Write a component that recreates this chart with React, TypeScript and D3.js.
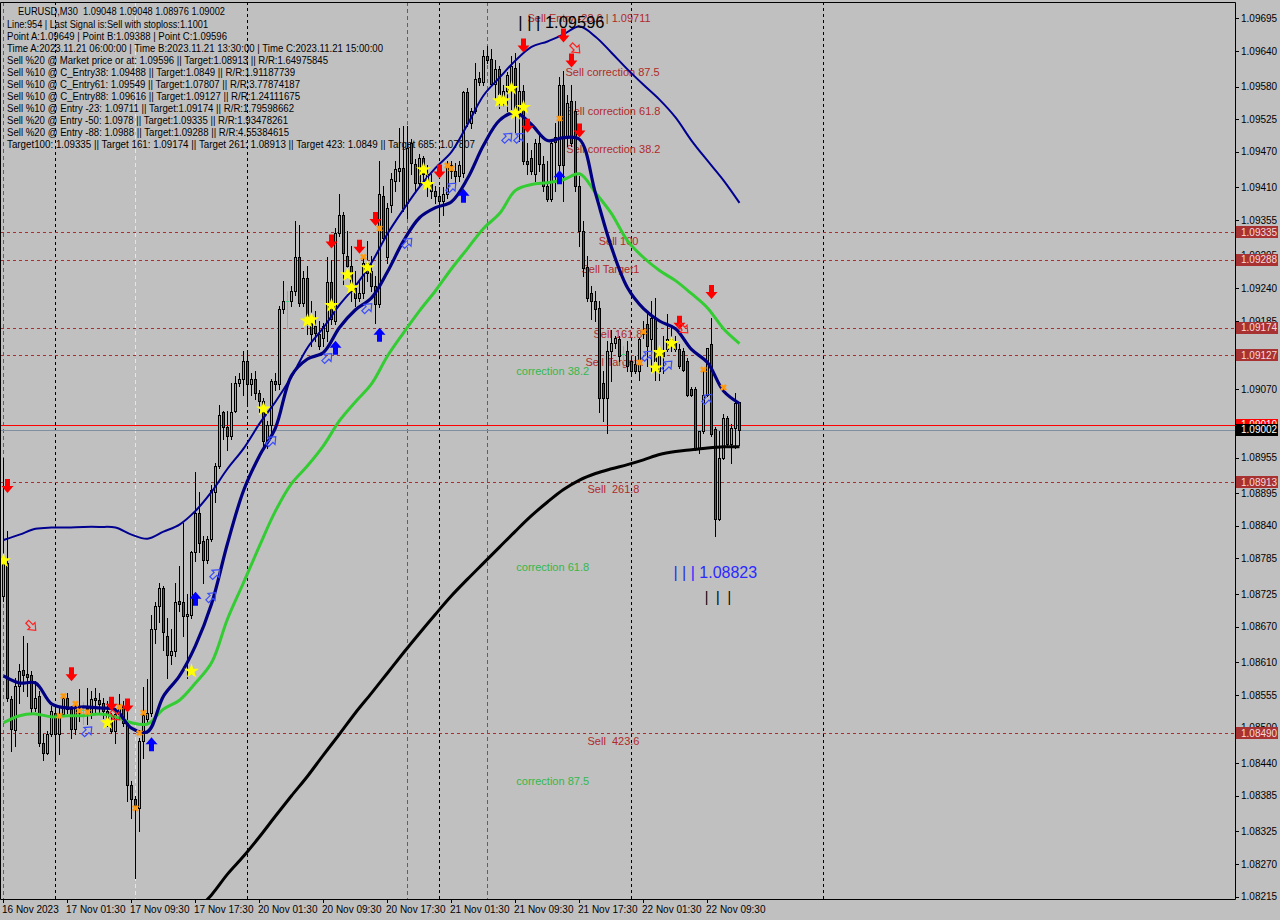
import * as d3 from "d3";
import { useEffect, useRef } from "react";

// EURUSD M30, bar 0 = 16 Nov 2023 17:30
const opens = [
  1.08722, 1.08778, 1.08548, 1.08496, 1.0857, 1.08597, 1.0859, 1.08588, 1.08533, 1.08553,
  1.08474, 1.08457, 1.08489, 1.08525, 1.08489, 1.08523, 1.08549, 1.08532, 1.08498, 1.08525,
  1.0853, 1.08533, 1.08523, 1.08549, 1.08546, 1.08542, 1.08528, 1.08511, 1.08494, 1.08523,
  1.08537, 1.08511, 1.08403, 1.0838, 1.08364, 1.08478, 1.08515, 1.08525, 1.08666, 1.08705,
  1.08735, 1.08654, 1.08622, 1.08629, 1.08713, 1.08711, 1.08688, 1.08689, 1.08795, 1.08862,
  1.08815, 1.08783, 1.08818, 1.08897, 1.0894, 1.09031, 1.09007, 1.08992, 1.09034, 1.09081,
  1.09088, 1.09118, 1.09079, 1.09088, 1.09064, 1.09051, 1.08983, 1.09009, 1.09084, 1.09078,
  1.09206, 1.09219, 1.09219, 1.09236, 1.09292, 1.09216, 1.09258, 1.09189, 1.09177, 1.09163,
  1.09157, 1.09168, 1.0925, 1.09185, 1.09334, 1.09363, 1.09295, 1.09278, 1.09241, 1.09224,
  1.09233, 1.09282, 1.0927, 1.09244, 1.09214, 1.09396, 1.09292, 1.0938, 1.09421, 1.09438,
  1.09443, 1.09383, 1.09485, 1.0945, 1.09418, 1.0946, 1.09433, 1.09416, 1.09404, 1.09396,
  1.09388, 1.09399, 1.09447, 1.09438, 1.0943, 1.09435, 1.0957, 1.09518, 1.09539, 1.09595,
  1.09587, 1.09632, 1.09627, 1.09585, 1.0961, 1.09556, 1.09573, 1.09573, 1.09612, 1.09539,
  1.09573, 1.09455, 1.0946, 1.09433, 1.09485, 1.0945, 1.09413, 1.0939, 1.09495, 1.09447,
  1.09582, 1.09495, 1.09556, 1.09539, 1.09413, 1.09337, 1.09276, 1.09233, 1.09219, 1.09207,
  1.09081, 1.09056, 1.09135, 1.09148, 1.09155, 1.0913, 1.09135, 1.09118, 1.09113, 1.09101,
  1.09168, 1.0918, 1.09155, 1.0919, 1.09101, 1.09132, 1.09138, 1.09155, 1.09148, 1.09138,
  1.09135, 1.09118, 1.09071, 1.09071, 1.0897, 1.09, 1.09061, 1.09147, 1.09003, 1.08852,
  1.08955, 1.09022, 1.08978, 1.09005, 1.09048,
];
const highs = [
  1.08954, 1.08831, 1.08553, 1.08583, 1.08607, 1.08654, 1.08642, 1.08595, 1.08578, 1.08561,
  1.08489, 1.08494, 1.08537, 1.08537, 1.08533, 1.08556, 1.08558, 1.08537, 1.08542, 1.08565,
  1.08543, 1.08566, 1.08561, 1.08566, 1.08558, 1.08549, 1.08545, 1.08525, 1.08532, 1.08556,
  1.08545, 1.08537, 1.0841, 1.08385, 1.08483, 1.08568, 1.08581, 1.08689, 1.08711, 1.08744,
  1.08739, 1.08684, 1.08666, 1.08744, 1.08772, 1.08845, 1.08725, 1.08798, 1.0893, 1.08897,
  1.08823, 1.08823, 1.08909, 1.08945, 1.09043, 1.09034, 1.09034, 1.09081, 1.09093, 1.09098,
  1.09135, 1.09132, 1.09098, 1.09101, 1.09068, 1.09056, 1.09017, 1.09088, 1.09098, 1.09211,
  1.09253, 1.09236, 1.09244, 1.09354, 1.09346, 1.0927, 1.09278, 1.09219, 1.09202, 1.09185,
  1.09182, 1.09292, 1.09287, 1.09341, 1.09399, 1.09368, 1.09337, 1.09312, 1.0927, 1.09253,
  1.09295, 1.0932, 1.09295, 1.09261, 1.09455, 1.09413, 1.09383, 1.09435, 1.09455, 1.0951,
  1.09514, 1.09514, 1.09492, 1.09458, 1.09467, 1.09463, 1.09447, 1.09433, 1.09413, 1.0941,
  1.0941, 1.09455, 1.09455, 1.09451, 1.09455, 1.09573, 1.09578, 1.09544, 1.09619, 1.09604,
  1.09641, 1.09649, 1.09644, 1.09624, 1.09615, 1.09582, 1.09604, 1.09632, 1.09636, 1.09619,
  1.09582, 1.09485, 1.09473, 1.09492, 1.095, 1.09463, 1.09455, 1.09492, 1.09519, 1.09596,
  1.09607, 1.09565, 1.09582, 1.09556, 1.0943, 1.09354, 1.09295, 1.09244, 1.09236, 1.09219,
  1.09101, 1.09152, 1.09169, 1.0916, 1.0916, 1.09143, 1.09152, 1.09126, 1.09126, 1.09157,
  1.09185, 1.09202, 1.09219, 1.09224, 1.0914, 1.0916, 1.09197, 1.09174, 1.0916, 1.09147,
  1.0914, 1.09123, 1.09074, 1.09073, 1.09, 1.09101, 1.0914, 1.0919, 1.09007, 1.09,
  1.09029, 1.09025, 1.09012, 1.09064, 1.09048,
];
const lows = [
  1.08713, 1.08545, 1.08461, 1.08469, 1.08542, 1.08561, 1.08553, 1.08525, 1.08528, 1.08469,
  1.08446, 1.08456, 1.08486, 1.08444, 1.08456, 1.0852, 1.08525, 1.08483, 1.08489, 1.08511,
  1.08506, 1.08506, 1.08516, 1.08523, 1.08523, 1.08516, 1.08503, 1.08491, 1.08474, 1.08516,
  1.08503, 1.08377, 1.08348, 1.08247, 1.08326, 1.08449, 1.08508, 1.0852, 1.08642, 1.08678,
  1.0863, 1.08583, 1.08607, 1.0862, 1.08696, 1.08654, 1.08583, 1.08684, 1.0878, 1.08796,
  1.08744, 1.08778, 1.08815, 1.0888, 1.08937, 1.08987, 1.08968, 1.08987, 1.09031, 1.09076,
  1.09061, 1.09046, 1.09061, 1.09054, 1.09031, 1.08975, 1.08971, 1.08989, 1.09068, 1.09071,
  1.09199, 1.09174, 1.09211, 1.09228, 1.09211, 1.09211, 1.09163, 1.09143, 1.09152, 1.09138,
  1.09143, 1.09152, 1.0918, 1.0918, 1.09329, 1.09248, 1.09261, 1.09219, 1.09211, 1.09219,
  1.09224, 1.09253, 1.09236, 1.09182, 1.09209, 1.0932, 1.09282, 1.09368, 1.09404, 1.09421,
  1.09371, 1.09358, 1.09433, 1.09404, 1.0941, 1.09418, 1.09396, 1.09393, 1.09383, 1.09351,
  1.09363, 1.09393, 1.09426, 1.09413, 1.09421, 1.09427, 1.09514, 1.0951, 1.09536, 1.09583,
  1.09583, 1.0962, 1.09582, 1.09561, 1.09544, 1.09548, 1.09539, 1.09543, 1.09503, 1.09489,
  1.0945, 1.09433, 1.09433, 1.09421, 1.09438, 1.09404, 1.09388, 1.09388, 1.09404, 1.09438,
  1.09388, 1.0948, 1.0948, 1.09404, 1.09312, 1.09261, 1.09219, 1.09189, 1.09185, 1.09031,
  1.09017, 1.08997, 1.09084, 1.0914, 1.09118, 1.09118, 1.09101, 1.09093, 1.09098, 1.09086,
  1.09157, 1.0911, 1.09101, 1.09086, 1.09086, 1.09098, 1.09135, 1.09135, 1.09135, 1.09106,
  1.09101, 1.09059, 1.09059, 1.08967, 1.08963, 1.08997, 1.09059, 1.08992, 1.08823, 1.08849,
  1.08953, 1.08975, 1.08946, 1.08971, 1.08976,
];
const closes = [
  1.08778, 1.08549, 1.08498, 1.0857, 1.08595, 1.08588, 1.08585, 1.08533, 1.08549, 1.08474,
  1.08457, 1.08489, 1.08528, 1.08489, 1.08523, 1.08549, 1.08532, 1.08498, 1.08533, 1.08535,
  1.0853, 1.08523, 1.08548, 1.08546, 1.0854, 1.08528, 1.08511, 1.08494, 1.08523, 1.0854,
  1.08508, 1.08403, 1.0838, 1.08364, 1.08478, 1.08521, 1.08525, 1.08666, 1.08705, 1.08735,
  1.08661, 1.08622, 1.08629, 1.08711, 1.08708, 1.08688, 1.08691, 1.08795, 1.08862, 1.08811,
  1.08783, 1.08818, 1.08901, 1.0894, 1.09027, 1.09007, 1.08992, 1.09031, 1.09081, 1.09088,
  1.09118, 1.09079, 1.09088, 1.09064, 1.09051, 1.08983, 1.09009, 1.09084, 1.09078, 1.09206,
  1.09219, 1.09219, 1.09236, 1.09292, 1.09216, 1.09258, 1.09189, 1.09163, 1.09165, 1.09143,
  1.09177, 1.0925, 1.09189, 1.09334, 1.09363, 1.09299, 1.09278, 1.09236, 1.09224, 1.09233,
  1.09282, 1.09266, 1.09244, 1.09214, 1.09399, 1.09324, 1.09376, 1.09425, 1.09441, 1.09443,
  1.09375, 1.09476, 1.09451, 1.09418, 1.0946, 1.09433, 1.0941, 1.09404, 1.09396, 1.09388,
  1.09399, 1.09447, 1.09438, 1.0943, 1.09447, 1.0957, 1.09518, 1.09539, 1.09593, 1.09587,
  1.09632, 1.09624, 1.09585, 1.0961, 1.09568, 1.09573, 1.09599, 1.09615, 1.09539, 1.09573,
  1.09455, 1.0945, 1.09438, 1.09485, 1.0945, 1.09413, 1.0939, 1.09485, 1.09487, 1.09582,
  1.09447, 1.09553, 1.09485, 1.09413, 1.09337, 1.09275, 1.09224, 1.09219, 1.09206, 1.09056,
  1.09056, 1.09135, 1.09148, 1.09157, 1.09126, 1.0913, 1.0911, 1.09101, 1.09101, 1.09155,
  1.09163, 1.09143, 1.0919, 1.09118, 1.09132, 1.09126, 1.09155, 1.09143, 1.09138, 1.0911,
  1.09103, 1.09061, 1.09061, 1.0897, 1.09, 1.09061, 1.0914, 1.08995, 1.08852, 1.08955,
  1.09022, 1.08978, 1.09005, 1.09046, 1.09002,
];

// moving averages read every 4 bars
const maStep = 4;
const fastMa = [
  1.08587, 1.08575, 1.08575, 1.0854, 1.08533, 1.08535, 1.08533, 1.0853, 1.08499, 1.08493,
  1.08553, 1.08587, 1.08638, 1.08708, 1.0881, 1.08899, 1.08958, 1.09005, 1.09093, 1.09121,
  1.09132, 1.09174, 1.09204, 1.09224, 1.09268, 1.0932, 1.09359, 1.09376, 1.09386, 1.09425,
  1.09481, 1.09523, 1.09536, 1.09516, 1.09489, 1.09494, 1.09491, 1.094, 1.09309, 1.09241,
  1.09206, 1.09185, 1.09172, 1.09137, 1.09115, 1.09067, 1.09046,
];
const greenMa = [
  1.08508, 1.0852, 1.08523, 1.08518, 1.0852, 1.0852, 1.08523, 1.08518, 1.08508, 1.08506,
  1.08531, 1.08546, 1.08575, 1.08609, 1.08683, 1.08744, 1.08806, 1.08865, 1.08911, 1.08941,
  1.08975, 1.09017, 1.09049, 1.09079, 1.09126, 1.09165, 1.09202, 1.09236, 1.09273, 1.09307,
  1.09341, 1.09366, 1.09405, 1.09415, 1.09418, 1.09423, 1.09433, 1.09401, 1.09366, 1.0932,
  1.09292, 1.0927, 1.09253, 1.09231, 1.09207, 1.09172, 1.09147,
];
const slowMa = [
  1.08816, 1.08825, 1.08835, 1.08837, 1.08837, 1.08838, 1.08838, 1.08837, 1.08825, 1.08818,
  1.0883, 1.08842, 1.08865, 1.08897, 1.08936, 1.0897, 1.09012, 1.09049, 1.09091, 1.0914,
  1.09174, 1.09212, 1.09244, 1.09283, 1.09332, 1.09373, 1.09411, 1.09443, 1.0947, 1.09516,
  1.09565, 1.09595, 1.09624, 1.09647, 1.09656, 1.09668, 1.09681, 1.09664, 1.09637, 1.09609,
  1.09583, 1.09558, 1.09528, 1.09489, 1.09455, 1.09422, 1.09384,
];
const longMaStart = 48;
const longMa = [
  1.08191, 1.08218, 1.08253, 1.08283, 1.08316, 1.08351, 1.08385, 1.08418, 1.08454, 1.08489,
  1.08525, 1.08558, 1.08592, 1.08626, 1.08659, 1.08691, 1.08722, 1.0875, 1.08777, 1.08804,
  1.08831, 1.08857, 1.0888, 1.08901, 1.08917, 1.08928, 1.08936, 1.08943, 1.08951, 1.0896,
  1.08965, 1.08968, 1.08971, 1.08973, 1.08973,
];

// signals: [bar, price]
const sellArrows = [
  [1, 1.08907], [17, 1.0859], [27, 1.0854], [31, 1.08537], [82, 1.09319], [89, 1.0931],
  [93, 1.09357], [109, 1.09437], [130, 1.09649], [131, 1.09514], [140, 1.09666],
  [142, 1.09624], [144, 1.09506], [169, 1.09182], [177, 1.09234],
];
const buyArrows = [
  [37, 1.08472], [48, 1.08717], [83, 1.0914], [94, 1.09162], [115, 1.09396], [139, 1.09427],
];
const buyHollow = [
  [21, 1.08494], [52, 1.0872], [53, 1.08759], [67, 1.08983], [81, 1.09123], [91, 1.09207],
  [101, 1.09317], [112, 1.0941], [126, 1.09494], [129, 1.09494], [161, 1.09127],
  [166, 1.0911], [176, 1.09054],
];
const sellHollow = [[7, 1.08671], [28, 1.0852], [143, 1.09644], [170, 1.09172]];
const stars = [
  [0, 1.08781], [26, 1.08508], [47, 1.08595], [65, 1.09037], [76, 1.09185], [77, 1.09187],
  [82, 1.09211], [86, 1.09263], [87, 1.09241], [91, 1.09275], [105, 1.0944], [106, 1.09415],
  [124, 1.09556], [125, 1.09556], [127, 1.09577], [128, 1.09535], [130, 1.09545],
  [163, 1.09106], [164, 1.09132], [167, 1.09147],
];
const crosses = [
  [14, 1.0852], [15, 1.08553], [18, 1.0854], [19, 1.08528], [21, 1.08526], [29, 1.08535],
  [33, 1.08364], [34, 1.08491], [35, 1.08525], [90, 1.09293], [94, 1.09341], [111, 1.09447],
  [112, 1.09442], [139, 1.09526], [159, 1.09115], [160, 1.09167], [175, 1.09103], [180, 1.09073],
];

const levelPrices = [1.09335, 1.09288, 1.09174, 1.09127, 1.08913, 1.0849];
const askPrice = 1.0901;
const bidPrice = 1.09002;

const yTicks = [
  1.09695, 1.0964, 1.0958, 1.09525, 1.0947, 1.0941, 1.09355, 1.09295, 1.0924, 1.09185,
  1.09125, 1.0907, 1.0901, 1.08955, 1.08895, 1.0884, 1.08785, 1.08725, 1.0867, 1.0861,
  1.08555, 1.085, 1.0844, 1.08385, 1.08325, 1.0827, 1.08215,
];
const timeBars = [0, 16, 32, 48, 64, 80, 96, 112, 128, 144, 160, 176];
const timeLabels = [
  "16 Nov 2023", "17 Nov 01:30", "17 Nov 09:30", "17 Nov 17:30", "20 Nov 01:30",
  "20 Nov 09:30", "20 Nov 17:30", "21 Nov 01:30", "21 Nov 09:30", "21 Nov 17:30",
  "22 Nov 01:30", "22 Nov 09:30",
];
const dayBars = [13, 61, 109, 157, 205];
const markBars = [0, 101, 121];
const cyanBars = [33];

const sellTexts = [
  "Sell Entry -23.6 | 1.09711", "Sell correction 87.5", "Sell correction 61.8",
  "Sell correction 38.2", "Sell 100", "Sell Target1", "Sell 161.8", "Sell Target2",
  "Sell  261.8", "Sell  423.6",
];
const sellTextBars = [131, 140.5, 140.7, 140.7, 148.8, 144.5, 147.5, 145.5, 146, 146];
const sellTextPrices = [
  1.09696, 1.09604, 1.09538, 1.09475, 1.0932, 1.09273, 1.09162, 1.09115, 1.08901, 1.08477,
];
const corrTexts = ["correction 38.2", "correction 61.8", "correction 87.5"];
const corrPrices = [1.09101, 1.08771, 1.0841];
const corrBar = 128.2;

const headerLines = [
  "EURUSD,M30  1.09048 1.09048 1.08976 1.09002",
  "Line:954 | Last Signal is:Sell with stoploss:1.1001",
  "Point A:1.09649 | Point B:1.09388 | Point C:1.09596",
  "Time A:2023.11.21 06:00:00 | Time B:2023.11.21 13:30:00 | Time C:2023.11.21 15:00:00",
  "Sell %20 @ Market price or at: 1.09596 || Target:1.08913 || R/R:1.64975845",
  "Sell %10 @ C_Entry38: 1.09488 || Target:1.0849 || R/R:1.91187739",
  "Sell %10 @ C_Entry61: 1.09549 || Target:1.07807 || R/R:3.77874187",
  "Sell %10 @ C_Entry88: 1.09616 || Target:1.09127 || R/R:1.24111675",
  "Sell %10 @ Entry -23: 1.09711 || Target:1.09174 || R/R:1.79598662",
  "Sell %20 @ Entry -50: 1.0978 || Target:1.09335 || R/R:1.93478261",
  "Sell %20 @ Entry -88: 1.0988 || Target:1.09288 || R/R:4.55384615",
  "Target100: 1.09335 || Target 161: 1.09174 || Target 261: 1.08913 || Target 423: 1.0849 || Target 685: 1.07807",
];
const headerWidths = [207, 201, 220, 376, 321, 288, 293, 293, 287, 281, 282, 468];

export default function App() {
  const svgRef = useRef<SVGSVGElement | null>(null);

  useEffect(() => {
    if (!svgRef.current) return;
    const svg = d3.select(svgRef.current);
    svg.selectAll("*").remove();

    const width = 1280;
    const height = 920;
    const plot = { left: 1, top: 2, right: 1235, bottom: 899 };
    const font = "'Liberation Sans', Arial, sans-serif";
    const bull = "#3edc7e";
    const bear = "#cf2141";
    const levelColor = "#a83030";
    const sellColor = "#b02a2a";

    svg
      .attr("width", width)
      .attr("height", height)
      .style("position", "absolute")
      .style("left", "0px")
      .style("top", "0px");

    const x = d3.scaleLinear().domain([0, 308]).range([3.5, 3.5 + 308 * 4]);
    const y = d3.scaleLinear().domain([1.08215, 1.09695]).range([896.7, 18.3]);
    const py = (p: number) => Math.round(y(p)) + 0.5;

    svg.append("rect").attr("width", width).attr("height", height).attr("fill", "#c0c0c0");

    svg
      .append("defs")
      .append("clipPath")
      .attr("id", "plotClip")
      .append("rect")
      .attr("x", plot.left)
      .attr("y", plot.top)
      .attr("width", plot.right - plot.left)
      .attr("height", plot.bottom - plot.top);

    const g = svg.append("g").attr("clip-path", "url(#plotClip)");

    // vertical separators
    const vLines = (bars: number[], color: string, dash: string) =>
      g
        .append("g")
        .selectAll("line")
        .data(bars)
        .join("line")
        .attr("x1", (d) => x(d))
        .attr("x2", (d) => x(d))
        .attr("y1", plot.top)
        .attr("y2", plot.bottom)
        .attr("stroke", color)
        .attr("stroke-dasharray", dash);
    vLines(dayBars, "#000", "3,3");
    vLines(cyanBars, "#c8f0f8", "4,3");
    vLines(markBars, "#d02080", "4,3");

    // level lines
    g.append("g")
      .selectAll("line")
      .data(levelPrices)
      .join("line")
      .attr("x1", plot.left)
      .attr("x2", plot.right)
      .attr("y1", (d) => py(d))
      .attr("y2", (d) => py(d))
      .attr("stroke", levelColor)
      .attr("stroke-dasharray", "3,3");
    g.append("line")
      .attr("x1", plot.left)
      .attr("x2", plot.right)
      .attr("y1", py(askPrice))
      .attr("y2", py(askPrice))
      .attr("stroke", "#ff0000");
    g.append("line")
      .attr("x1", plot.left)
      .attr("x2", plot.right)
      .attr("y1", py(bidPrice))
      .attr("y2", py(bidPrice))
      .attr("stroke", "#8090a0");

    // header comment block
    const header = g.append("g").style("font-family", font).style("font-size", "10px");
    header
      .selectAll("text")
      .data(headerLines)
      .join("text")
      .attr("x", (_, i) => (i === 0 ? 18 : 7))
      .attr("y", (_, i) => (i === 0 ? 11 : 12 + 12 * i) + 3.5)
      .attr("textLength", (_, i) => headerWidths[i])
      .attr("lengthAdjust", "spacingAndGlyphs")
      .attr("fill", "#000")
      .style("white-space", "pre")
      .text((d) => d);

    // fibo / target texts (under the candles)
    const labels = g.append("g").style("font-family", font).style("font-size", "11px");
    labels
      .selectAll("text.sell")
      .data(sellTexts)
      .join("text")
      .attr("class", "sell")
      .attr("x", (_, i) => x(sellTextBars[i]))
      .attr("y", (_, i) => y(sellTextPrices[i]))
      .attr("dy", "0.35em")
      .attr("fill", sellColor)
      .style("white-space", "pre")
      .text((d) => d);
    labels
      .selectAll("text.corr")
      .data(corrTexts)
      .join("text")
      .attr("class", "corr")
      .attr("x", x(corrBar))
      .attr("y", (_, i) => y(corrPrices[i]))
      .attr("dy", "0.35em")
      .attr("fill", "#33b84b")
      .text((d) => d);

    // candles
    const cg = g.append("g").attr("shape-rendering", "crispEdges");
    d3.range(opens.length).forEach((i) => {
      const cx = x(i);
      const o = opens[i];
      const c = closes[i];
      const doji = Math.abs(o - c) < 0.000005;
      cg.append("line")
        .attr("x1", cx)
        .attr("x2", cx)
        .attr("y1", Math.round(y(highs[i])))
        .attr("y2", Math.round(y(lows[i])) + 1)
        .attr("stroke", doji ? bull : "#000");
      const top = Math.round(Math.min(y(o), y(c)));
      const bot = Math.round(Math.max(y(o), y(c)));
      if (doji) {
        cg.append("line")
          .attr("x1", cx - 1.5)
          .attr("x2", cx + 1.5)
          .attr("y1", top + 0.5)
          .attr("y2", top + 0.5)
          .attr("stroke", bull);
      } else {
        cg.append("rect")
          .attr("x", cx - 1)
          .attr("y", top + 0.5)
          .attr("width", 2)
          .attr("height", Math.max(bot - top, 1))
          .attr("fill", c >= o ? bull : bear)
          .attr("stroke", "#000");
      }
    });

    // moving averages
    const maLine = (values: number[], start: number, color: string, w: number) => {
      const line = d3
        .line<number>()
        .x((_, i) => x(start + i * maStep))
        .y((d) => y(d))
        .curve(d3.curveCatmullRom);
      g.append("path")
        .attr("d", line(values))
        .attr("fill", "none")
        .attr("stroke", color)
        .attr("stroke-width", w)
        .attr("stroke-linejoin", "round");
    };
    maLine(longMa, longMaStart, "#000", 3);
    maLine(greenMa, 0, "#33cc33", 3);
    maLine(slowMa, 0, "#000090", 2);
    maLine(fastMa, 0, "#000080", 3.2);

    // signal markers
    const sg = g.append("g");
    const star = d3.symbol().type(d3.symbolStar).size(70)();
    sg.selectAll("path.star")
      .data(stars)
      .join("path")
      .attr("class", "star")
      .attr("d", star)
      .attr("transform", (d) => `translate(${x(d[0])},${y(d[1])})`)
      .attr("fill", "#ffff00");
    const cross = d3.symbol().type(d3.symbolCross).size(30)();
    sg.selectAll("path.cross")
      .data(crosses)
      .join("path")
      .attr("class", "cross")
      .attr("d", cross)
      .attr("transform", (d) => `translate(${x(d[0])},${y(d[1])}) rotate(45)`)
      .attr("fill", "#ff9a10");

    const bigArrow = "M-2.5,-7H2.5V0H6L0,7L-6,0H-2.5Z";
    sg.selectAll("path.sell")
      .data(sellArrows)
      .join("path")
      .attr("class", "sell")
      .attr("d", bigArrow)
      .attr("transform", (d) => `translate(${x(d[0])},${y(d[1])})`)
      .attr("fill", "#ff0000");
    sg.selectAll("path.buy")
      .data(buyArrows)
      .join("path")
      .attr("class", "buy")
      .attr("d", bigArrow)
      .attr("transform", (d) => `translate(${x(d[0])},${y(d[1])}) rotate(180)`)
      .attr("fill", "#0000ff");

    const hollow = "M-2,6V0H-5L0,-6L5,0H2V6Z";
    sg.selectAll("path.hbuy")
      .data(buyHollow)
      .join("path")
      .attr("class", "hbuy")
      .attr("d", hollow)
      .attr("transform", (d) => `translate(${x(d[0])},${y(d[1])}) rotate(45)`)
      .attr("fill", "none")
      .attr("stroke", "#3a4cff")
      .attr("stroke-width", 1.2);
    sg.selectAll("path.hsell")
      .data(sellHollow)
      .join("path")
      .attr("class", "hsell")
      .attr("d", hollow)
      .attr("transform", (d) => `translate(${x(d[0])},${y(d[1])}) rotate(135)`)
      .attr("fill", "none")
      .attr("stroke", "#ff2020")
      .attr("stroke-width", 1.2);

    // point labels
    const big = g.append("g").style("font-family", font);
    big.append("text")
      .attr("x", x(128.7))
      .attr("y", y(1.09688))
      .attr("dy", "0.35em")
      .style("font-size", "16.5px")
      .attr("fill", "#000")
      .style("white-space", "pre")
      .text("| | | 1.09596");
    big.append("text")
      .attr("x", x(167.5))
      .attr("y", y(1.08762))
      .attr("dy", "0.35em")
      .style("font-size", "16px")
      .attr("fill", "#2a2aff")
      .style("white-space", "pre")
      .text("| | | 1.08823");
    big.append("text")
      .attr("x", x(175.3))
      .attr("y", y(1.0872))
      .attr("dy", "0.35em")
      .style("font-size", "14px")
      .attr("fill", "#000")
      .style("white-space", "pre")
      .text("|  |  |");

    // frame
    svg.append("path")
      .attr(
        "d",
        `M${plot.left - 0.5},${plot.bottom + 0.5}V${plot.top + 0.5}H${plot.right + 0.5}V${plot.bottom + 0.5}H${plot.left - 0.5}`,
      )
      .attr("fill", "none")
      .attr("stroke", "#000");

    // price axis
    const ax = svg.append("g").style("font-family", font).style("font-size", "10px");
    yTicks.forEach((v) => {
      ax.append("line")
        .attr("x1", plot.right)
        .attr("x2", plot.right + 4)
        .attr("y1", py(v))
        .attr("y2", py(v))
        .attr("stroke", "#000");
      ax.append("text")
        .attr("x", plot.right + 6)
        .attr("y", y(v))
        .attr("dy", "0.36em")
        .attr("fill", "#000")
        .text(v.toFixed(5));
    });

    const tag = (p: number, bg: string, fg: string) => {
      ax.append("rect")
        .attr("x", plot.right + 1)
        .attr("y", Math.round(y(p)) - 6)
        .attr("width", 42)
        .attr("height", 12)
        .attr("fill", bg);
      ax.append("text")
        .attr("x", plot.right + 6)
        .attr("y", y(p))
        .attr("dy", "0.36em")
        .attr("fill", fg)
        .text(p.toFixed(5));
    };
    levelPrices.forEach((p) => tag(p, "#a83232", "#f6dada"));
    tag(askPrice, "#ff0000", "#ffffff");
    tag(bidPrice, "#000000", "#ffffff");

    // time axis
    const tx = svg.append("g").style("font-family", font).style("font-size", "10px");
    timeBars.forEach((b, i) => {
      tx.append("line")
        .attr("x1", x(b))
        .attr("x2", x(b))
        .attr("y1", plot.bottom)
        .attr("y2", plot.bottom + 4)
        .attr("stroke", "#000");
      tx.append("text")
        .attr("x", x(b) - 1.5)
        .attr("y", 913)
        .attr("fill", "#000")
        .text(timeLabels[i]);
    });
  }, []);

  return <svg ref={svgRef}></svg>;
}
